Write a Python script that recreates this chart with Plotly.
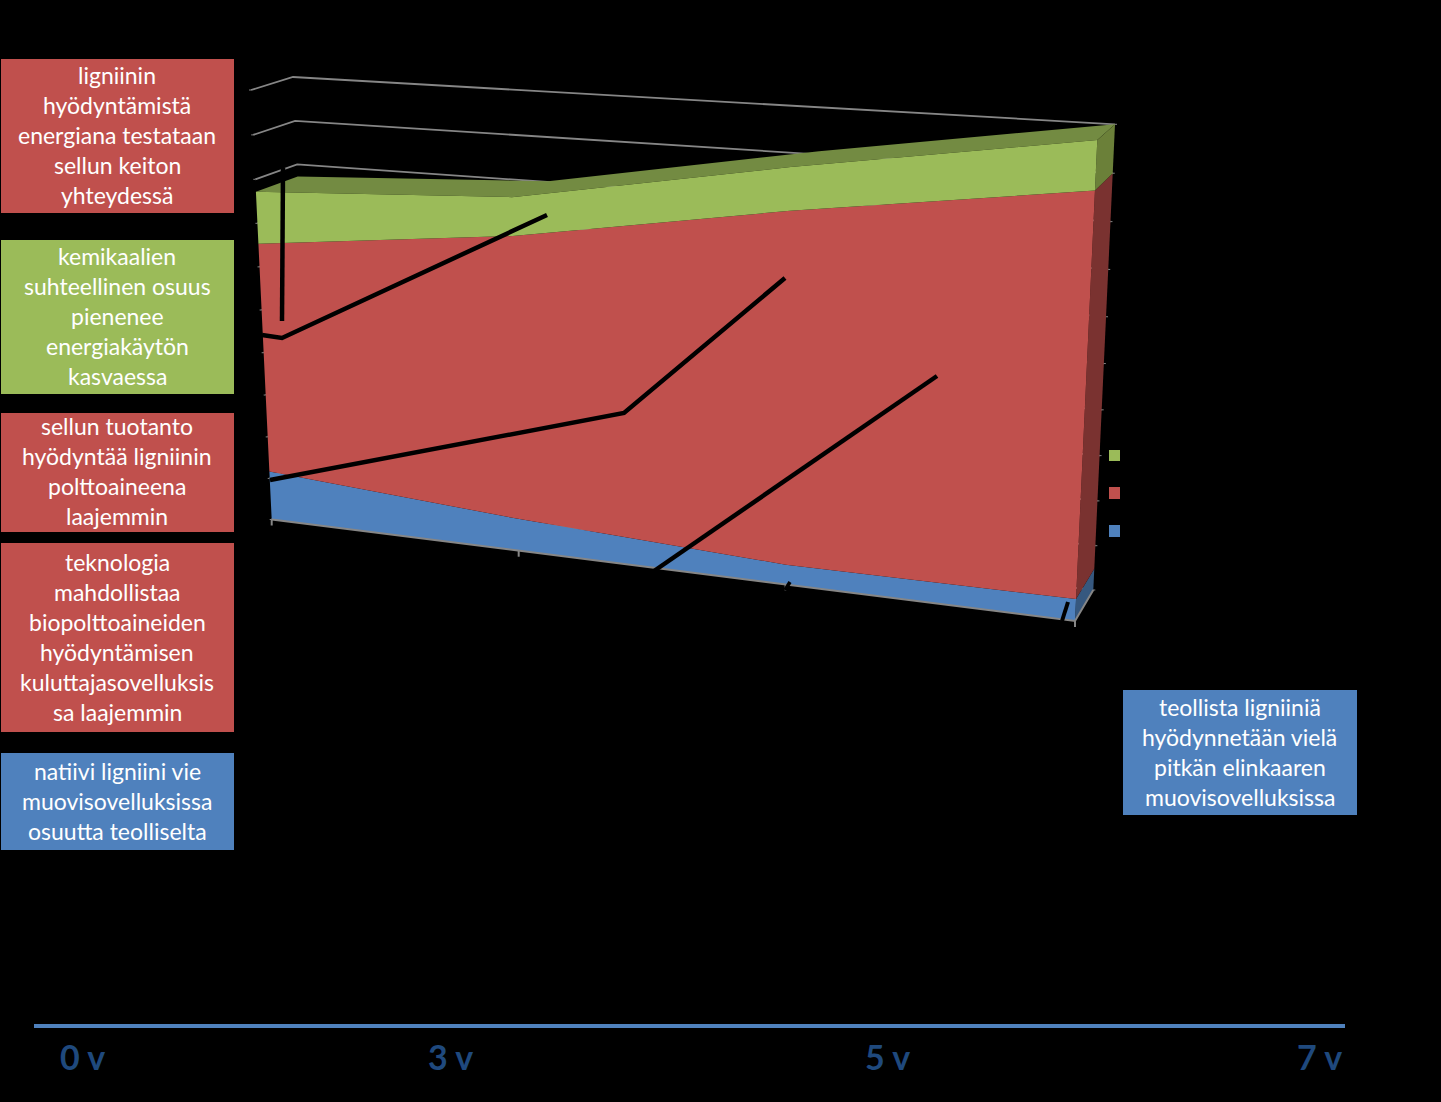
import numpy as np
import plotly.graph_objects as go

# ---------- data ----------
periods = ["0 v", "3 v", "5 v", "7 v"]
blue_values = [11.7, 7.5, 4.5, 4.8]
red_values = [53.6, 64.2, 77.1, 85.2]
green_values = [11.9, 8.5, 9.1, 10.0]
value_ticks = [0, 10, 20, 30, 40, 50, 60, 70, 80, 90, 100]

BLUE, RED, GREEN = "#4F81BD", "#C0504D", "#9BBB59"
BLUE_SIDE, RED_SIDE, GREEN_SIDE = "#36587F", "#7A3230", "#6B8039"
GREEN_TOP = "#738B42"
GRID = "#868686"
FONT = "Lato"

left_notes = [
    (59, 213, RED, ["ligniinin", "hyödyntämistä", "energiana testataan", "sellun keiton", "yhteydessä"]),
    (240, 394, GREEN, ["kemikaalien", "suhteellinen osuus", "pienenee", "energiakäytön", "kasvaessa"]),
    (413, 532, RED, ["sellun tuotanto", "hyödyntää ligniinin", "polttoaineena", "laajemmin"]),
    (543, 732, RED, ["teknologia", "mahdollistaa", "biopolttoaineiden", "hyödyntämisen", "kuluttajasovelluksis", "sa laajemmin"]),
    (753, 850, BLUE, ["natiivi ligniini vie", "muovisovelluksissa", "osuutta teolliselta"]),
]
right_note = (690, 815, BLUE, ["teollista ligniiniä", "hyödynnetään vielä", "pitkän elinkaaren", "muovisovelluksissa"])


# ---------- perspective scale: (category, value, depth) -> picture position ----------
def homography(corners):
    src = [(0, 0), (3, 0), (3, 100), (0, 100)]
    A, b = [], []
    for (u, v), (x, y) in zip(src, corners):
        A.append([u, v, 1, 0, 0, 0, -u * x, -v * x]); b.append(x)
        A.append([0, 0, 0, u, v, 1, -u * y, -v * y]); b.append(y)
    return np.append(np.linalg.solve(np.array(A, float), np.array(b, float)), 1).reshape(3, 3)


FRONT = homography([(271.7, 519.5), (1075, 621), (1097.3, 140), (251, 90)])
BACK = homography([(313, 497), (1093.3, 590), (1115, 124.3), (293, 77)])


def project(u, v, depth=0):
    p = (BACK if depth else FRONT) @ np.array([u, v, 1.0])
    return p[0] / p[2], p[1] / p[2]


def polygon(points, color):
    xy = [project(*p) for p in points]
    return go.Scatter(x=[a for a, _ in xy] + [xy[0][0]], y=[b for _, b in xy] + [xy[0][1]],
                      mode="lines", fill="toself", fillcolor=color, line=dict(width=0),
                      hoverinfo="skip", showlegend=False)


cat = list(range(len(periods)))
s0 = [0.0] * 4
s1 = list(np.array(blue_values))
s2 = list(np.array(s1) + np.array(red_values))
s3 = list(np.array(s2) + np.array(green_values))

fig = go.Figure()

# gridlines on the walls
gx, gy = [], []
for v in value_ticks:
    for p in [(0, v, 0), (0, v, 1), (3, v, 1)]:
        a, b = project(*p); gx.append(a); gy.append(b)
    gx.append(None); gy.append(None)
fig.add_trace(go.Scatter(x=gx, y=gy, mode="lines", line=dict(color=GRID, width=1.8),
                         hoverinfo="skip", showlegend=False))

# top surface of the stack
fig.add_trace(polygon([(u, s3[u], 0) for u in cat] + [(u, s3[u], 1) for u in reversed(cat)], GREEN_TOP))

# right side faces
for lo, hi, col in [(s0, s1, BLUE_SIDE), (s1, s2, RED_SIDE), (s2, s3, GREEN_SIDE)]:
    fig.add_trace(polygon([(3, lo[3], 0), (3, hi[3], 0), (3, hi[3], 1), (3, lo[3], 1)], col))

# front faces
for lo, hi, col in [(s0, s1, BLUE), (s1, s2, RED), (s2, s3, GREEN)]:
    fig.add_trace(polygon([(u, lo[u], 0) for u in cat] + [(u, hi[u], 0) for u in reversed(cat)], col))

# axes and ticks
ax, ay = [], []
for p in [(0, 0, 0), (3, 0, 0), (3, 0, 1)]:
    a, b = project(*p); ax.append(a); ay.append(b)
ax.append(None); ay.append(None)
for u in cat:
    a, b = project(u, 0, 0)
    ax += [a, a, None]; ay += [b, b + 6, None]
fig.add_trace(go.Scatter(x=ax, y=ay, mode="lines", line=dict(color=GRID, width=2),
                         hoverinfo="skip", showlegend=False))
tx, ty = [], []
for v in value_ticks:
    a, b = project(0, v, 0)
    tx += [a - 2, a, None]; ty += [b, b, None]
    a, b = project(3, v, 1)
    tx += [a, a + 2, None]; ty += [b, b, None]
fig.add_trace(go.Scatter(x=tx, y=ty, mode="lines", line=dict(color=GRID, width=1),
                         hoverinfo="skip", showlegend=False))

shapes = []
annotations = []


def seg(path, color="#000000", width=4.5):
    d = "M " + " L ".join(f"{x},{y}" for x, y in path)
    shapes.append(dict(type="path", path=d, xref="x", yref="y", line=dict(color=color, width=width), layer="above"))


# callout connectors
seg([(283, 168), (282, 321)])
seg([(262, 335), (282, 338), (547, 215)])
seg([(270, 480), (624, 413), (785, 278)])
seg([(654, 571), (937, 376)])
seg([(1062, 621), (1068, 602)], width=4)
seg([(785, 590), (790, 582)], width=3.5)

# legend keys
for y0, y1, col in [(450, 461, GREEN), (487, 499, RED), (525, 537, BLUE)]:
    shapes.append(dict(type="rect", xref="x", yref="y", x0=1109, x1=1120, y0=y0, y1=y1,
                       fillcolor=col, line=dict(width=0), layer="above"))


def note(x0, x1, entry, nudge=-1.2):
    top, bottom, col, lines = entry
    shapes.append(dict(type="rect", xref="x", yref="y", x0=x0, x1=x1, y0=top, y1=bottom,
                       fillcolor=col, line=dict(width=0), layer="above"))
    first = (top + bottom) / 2 - 30 * (len(lines) - 1) / 2 + nudge
    for i, line in enumerate(lines):
        annotations.append(dict(x=(x0 + x1) / 2 - 0.5, y=first + 30 * i, xref="x", yref="y", text=line,
                                showarrow=False, xanchor="center", yanchor="middle",
                                font=dict(family=FONT, size=23, color="white")))


for entry, nudge in zip(left_notes, [-1.2, -1.2, -1.2, -0.2, -0.2]):
    note(1, 234, entry, nudge)
note(1123, 1357, right_note, -0.2)

# timeline
shapes.append(dict(type="line", xref="x", yref="y", x0=34, x1=1345, y0=1026, y1=1026,
                   line=dict(color=BLUE, width=4), layer="above"))
for label, x in zip(periods, [82, 450, 887, 1319]):
    annotations.append(dict(x=x, y=1056, xref="x", yref="y", text=f"<b>{label}</b>", showarrow=False,
                            xanchor="center", yanchor="middle",
                            font=dict(family=FONT, size=34, color="#1F497D")))

fig.update_layout(
    width=1441, height=1102, margin=dict(l=0, r=0, t=0, b=0),
    paper_bgcolor="#000000", plot_bgcolor="#000000", showlegend=False,
    xaxis=dict(range=[0, 1441], visible=False, fixedrange=True),
    yaxis=dict(range=[1102, 0], visible=False, fixedrange=True),
    shapes=shapes, annotations=annotations,
)
fig.write_html("out.html", config={"displayModeBar": False},
               post_script="document.body.style.margin='0';document.body.style.background='#000';")
